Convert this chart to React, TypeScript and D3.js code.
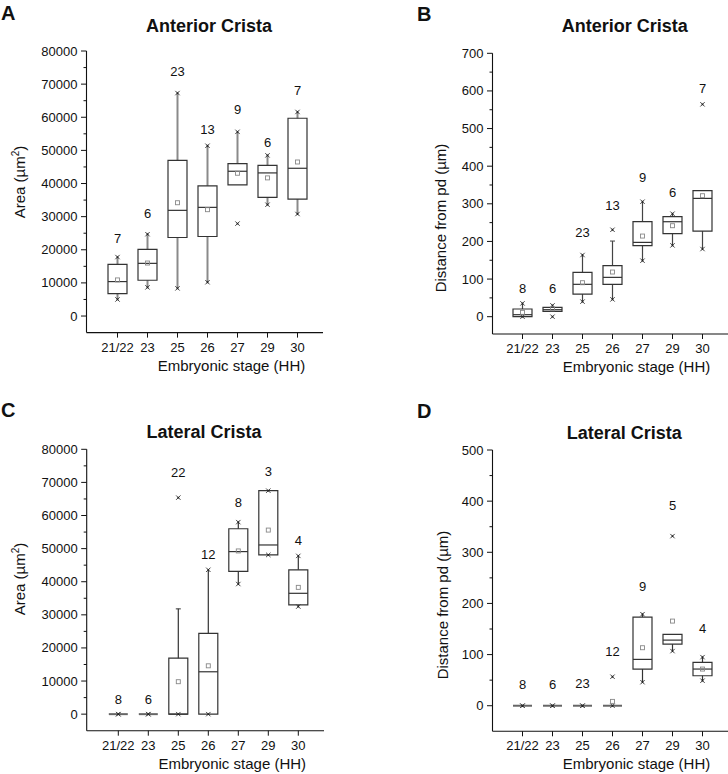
import React from "react";
import * as d3 from "d3";

// ---------- data ----------
const categories = ["21/22", "23", "25", "26", "27", "29", "30"];

// Panel A: Anterior crista area (µm²)
const aQ1 = [6740, 10800, 23700, 24000, 39600, 35800, 35300];
const aMedian = [10400, 15900, 31900, 32800, 43700, 43200, 44600];
const aQ3 = [15600, 20100, 47000, 39300, 46000, 45500, 59700];
const aMean = [10900, 16000, 34200, 32100, 43100, 41700, 46500];
const aWhiskerLo = [5000, 8650, 8350, 10200, 39600, 33600, 30800];
const aWhiskerHi = [17800, 24700, 67300, 51400, 55600, 48500, 61600];
const aMin = [5000, 8650, 8350, 10200, 27900, 33600, 30800];
const aMax = [17800, 24700, 67300, 51400, 55600, 48500, 61600];
const aN = [7, 6, 23, 13, 9, 6, 7];
const aNLabelY = [23500, 31000, 74000, 56400, 62300, 52400, 68000];

// Panel B: Anterior crista distance from pd (µm)
const bQ1 = [0, 14.2, 60.2, 86, 188.7, 220.5, 227.6];
const bMedian = [5.3, 18.6, 86, 104.5, 197.5, 252.4, 314.4];
const bQ3 = [20.4, 24.8, 117.8, 135.5, 252.4, 265.7, 334.8];
const bMean = [11.5, 21, 90.3, 118.7, 214.3, 241.8, 321.5];
const bWhiskerLo = [0, 14.2, 40, 46, 148.8, 189.5, 179.8];
const bWhiskerHi = [35.4, 30, 163.9, 201, 305.6, 273.7, 334.8];
const bMin = [0, 0, 40, 46, 148.8, 189.5, 179.8];
const bMax = [35.4, 30, 163.9, 231, 305.6, 273.7, 564.4];
const bN = [8, 6, 23, 13, 9, 6, 7];
const bNLabelY = [74.4, 74.4, 223, 296, 369.5, 329.6, 606];

// Panel C: Lateral crista area (µm²)
const cQ1 = [0, 0, 0, 0, 43100, 48100, 33000];
const cMedian = [0, 0, 0, 12800, 49100, 51100, 36500];
const cQ3 = [0, 0, 16900, 24400, 56000, 67500, 43600];
const cMean = [0, 0, 9800, 14600, 49300, 55600, 38300];
const cWhiskerLo = [0, 0, 0, 0, 39300, 48100, 32500];
const cWhiskerHi = [0, 0, 31800, 43600, 58000, 67500, 47800];
const cMin = [0, 0, 0, 0, 39300, 48100, 32500];
const cMax = [0, 0, 65400, 43600, 58000, 67500, 47800];
const cN = [8, 6, 22, 12, 8, 3, 4];
const cNLabelY = [4400, 4400, 73200, 48400, 64000, 73500, 52500];

// Panel D: Lateral crista distance from pd (µm)
const dQ1 = [0, 0, 0, 0, 71.7, 120.5, 58.6];
const dMedian = [0, 0, 0, 0, 90.6, 128.3, 71.7];
const dQ3 = [0, 0, 0, 0, 173.3, 139.4, 84.7];
const dMean = [0, 0, 0, 8.5, 113.4, 165.5, 71.7];
const dWhiskerLo = [0, 0, 0, 0, 46, 106.8, 48.9];
const dWhiskerHi = [0, 0, 0, 0, 179, 139.4, 95];
const dMin = [0, 0, 0, 0, 46, 106.8, 48.9];
const dMax = [0, 0, 0, 56.7, 179, 331.6, 95];
const dN = [8, 6, 23, 12, 9, 5, 4];
const dNLabelY = [41.7, 41.7, 44.6, 105.5, 232.6, 392, 151];

const yTicksArea = [0, 10000, 20000, 30000, 40000, 50000, 60000, 70000, 80000];
const yTicksDistB = [0, 100, 200, 300, 400, 500, 600, 700];
const yTicksDistD = [0, 100, 200, 300, 400, 500];

const FONT = "'Liberation Sans', Arial, Helvetica, sans-serif";

type Series = {
  q1: number[]; median: number[]; q3: number[]; mean: number[];
  wLo: number[]; wHi: number[]; min: number[]; max: number[];
  n: number[]; nY: number[];
};

type Cfg = {
  letter: string; letterX: number; letterY: number;
  title: string; titleX: number; titleY: number;
  axisX: number; axisRight: number;
  firstCat: number;
  yDomain: [number, number]; yRange: [number, number];
  yTicks: number[]; minorStep: number;
  yLabel: "area" | "dist"; yLabelX: number; yLabelY: number;
  whiskerColor: string; whiskerWidth: number;
};

function Panel({ cfg, s }: { cfg: Cfg; s: Series }) {
  const x = d3.scalePoint<string>().domain(categories).range([cfg.firstCat, cfg.firstCat + 180]);
  const y = d3.scaleLinear().domain(cfg.yDomain).range(cfg.yRange);
  const axisBottom = cfg.yRange[0];
  const axisTop = cfg.yRange[1];
  const minor: number[] = d3.range(cfg.yDomain[0] < 0 ? 0 : 0, cfg.yDomain[1] + 1e-9, cfg.minorStep)
    .filter((v) => !cfg.yTicks.includes(v));
  const half = 9.5;
  const fmt = (v: number) => String(v);

  return (
    <g fontFamily={FONT}>
      <text x={cfg.letterX} y={cfg.letterY} fontSize={20} fontWeight="bold" fill="#111">{cfg.letter}</text>
      <text x={cfg.titleX} y={cfg.titleY} fontSize={18} fontWeight="bold" textAnchor="middle" fill="#111">{cfg.title}</text>

      {/* y axis */}
      <line x1={cfg.axisX} x2={cfg.axisX} y1={axisTop} y2={axisBottom} stroke="#111" strokeWidth={1.1} />
      {cfg.yTicks.map((t) => (
        <g key={"yt" + t}>
          <line x1={cfg.axisX - 5.5} x2={cfg.axisX} y1={y(t)} y2={y(t)} stroke="#111" strokeWidth={1} />
          <text x={cfg.axisX - 9} y={y(t) + 4.5} fontSize={13} textAnchor="end" fill="#111">{fmt(t)}</text>
        </g>
      ))}
      {minor.map((t) => (
        <line key={"ym" + t} x1={cfg.axisX - 3} x2={cfg.axisX} y1={y(t)} y2={y(t)} stroke="#111" strokeWidth={1} />
      ))}

      {/* x axis */}
      <line x1={cfg.axisX} x2={cfg.axisRight} y1={axisBottom} y2={axisBottom} stroke="#111" strokeWidth={1.1} />
      {categories.map((c) => (
        <g key={"xt" + c}>
          <line x1={x(c)!} x2={x(c)!} y1={axisBottom} y2={axisBottom + 5} stroke="#111" strokeWidth={1} />
          <text x={x(c)!} y={axisBottom + 19} fontSize={13} textAnchor="middle" fill="#111">{c}</text>
        </g>
      ))}
      <text x={cfg.firstCat + 114} y={axisBottom + 38} fontSize={15} textAnchor="middle" fill="#111">
        Embryonic stage (HH)
      </text>

      {/* y label */}
      <text transform={`translate(${cfg.yLabelX},${cfg.yLabelY}) rotate(-90)`} fontSize={15} textAnchor="middle" fill="#111" dy="0.35em">
        {cfg.yLabel === "area" ? (
          <>
            Area (µm<tspan fontSize={10} dy={-6}>2</tspan><tspan dy={6}>)</tspan>
          </>
        ) : (
          "Distance from pd (µm)"
        )}
      </text>

      {/* boxes */}
      {categories.map((c, i) => {
        const cx = x(c)!;
        const yq1 = y(s.q1[i]);
        const yq3 = y(s.q3[i]);
        const ym = y(s.median[i]);
        const flat = s.q1[i] === s.q3[i];
        const mk = (v: number, k: string) => {
          const yy = y(v);
          return (
            <g key={k}>
              <path d={`M${cx - 2.2},${yy - 2.2}L${cx + 2.2},${yy + 2.2}M${cx - 2.2},${yy + 2.2}L${cx + 2.2},${yy - 2.2}`} stroke="#444" strokeWidth={1} />
              <circle cx={cx} cy={yy} r={0.9} fill="#222" />
            </g>
          );
        };
        return (
          <g key={"box" + c}>
            {s.wHi[i] > s.q3[i] && (
              <line x1={cx} x2={cx} y1={yq3} y2={y(s.wHi[i])} stroke={cfg.whiskerColor} strokeWidth={cfg.whiskerWidth} />
            )}
            {s.wLo[i] < s.q1[i] && (
              <line x1={cx} x2={cx} y1={yq1} y2={y(s.wLo[i])} stroke={cfg.whiskerColor} strokeWidth={cfg.whiskerWidth} />
            )}
            {s.wHi[i] > s.q3[i] && s.wHi[i] !== s.max[i] && (
              <line x1={cx - 2.5} x2={cx + 2.5} y1={y(s.wHi[i])} y2={y(s.wHi[i])} stroke={cfg.whiskerColor} strokeWidth={1} />
            )}
            {flat ? (
              <line x1={cx - half} x2={cx + half} y1={yq1} y2={yq1} stroke="#666" strokeWidth={2} />
            ) : (
              <path
                d={`M${cx - half},${yq1}H${cx + half}V${yq3}H${cx - half}Z`}
                fill="none" stroke="#333" strokeWidth={1.2}
              />
            )}
            {!flat && <line x1={cx - half} x2={cx + half} y1={ym} y2={ym} stroke="#333" strokeWidth={1.2} />}
            {mk(s.min[i], "mn")}
            {mk(s.max[i], "mx")}
            {!(flat && s.mean[i] === s.q1[i]) && (
              <rect x={cx - 2} y={y(s.mean[i]) - 2} width={4} height={4} fill="none" stroke="#888" strokeWidth={0.9} />
            )}
            <text x={cx} y={y(s.nY[i]) + 4.7} fontSize={13} textAnchor="middle" fill="#111">{s.n[i]}</text>
          </g>
        );
      })}
    </g>
  );
}

const panelA: Cfg = {
  letter: "A", letterX: 1, letterY: 20,
  title: "Anterior Crista", titleX: 209, titleY: 31.5,
  axisX: 86.5, axisRight: 323, firstCat: 117.5,
  yDomain: [-5000, 80000], yRange: [332.6, 51],
  yTicks: yTicksArea, minorStep: 5000,
  yLabel: "area", yLabelX: 20, yLabelY: 182,
  whiskerColor: "#8a8a8a", whiskerWidth: 2,
};
const panelB: Cfg = {
  letter: "B", letterX: 417, letterY: 20.5,
  title: "Anterior Crista", titleX: 624.7, titleY: 31.5,
  axisX: 492.5, axisRight: 728, firstCat: 522.5,
  yDomain: [-46, 700], yRange: [334, 53.3],
  yTicks: yTicksDistB, minorStep: 50,
  yLabel: "dist", yLabelX: 441, yLabelY: 218,
  whiskerColor: "#444", whiskerWidth: 1.2,
};
const panelC: Cfg = {
  letter: "C", letterX: 1, letterY: 417,
  title: "Lateral Crista", titleX: 204, titleY: 438.3,
  axisX: 86.7, axisRight: 324, firstCat: 118.3,
  yDomain: [-5000, 80000], yRange: [730.7, 449.3],
  yTicks: yTicksArea, minorStep: 5000,
  yLabel: "area", yLabelX: 20, yLabelY: 579,
  whiskerColor: "#333", whiskerWidth: 1.2,
};
const panelD: Cfg = {
  letter: "D", letterX: 417, letterY: 417.5,
  title: "Lateral Crista", titleX: 624.3, titleY: 439,
  axisX: 492.5, axisRight: 728, firstCat: 522.5,
  yDomain: [-50, 500], yRange: [731.3, 450],
  yTicks: yTicksDistD, minorStep: 50,
  yLabel: "dist", yLabelX: 443, yLabelY: 605,
  whiskerColor: "#333", whiskerWidth: 1.2,
};

const sA: Series = { q1: aQ1, median: aMedian, q3: aQ3, mean: aMean, wLo: aWhiskerLo, wHi: aWhiskerHi, min: aMin, max: aMax, n: aN, nY: aNLabelY };
const sB: Series = { q1: bQ1, median: bMedian, q3: bQ3, mean: bMean, wLo: bWhiskerLo, wHi: bWhiskerHi, min: bMin, max: bMax, n: bN, nY: bNLabelY };
const sC: Series = { q1: cQ1, median: cMedian, q3: cQ3, mean: cMean, wLo: cWhiskerLo, wHi: cWhiskerHi, min: cMin, max: cMax, n: cN, nY: cNLabelY };
const sD: Series = { q1: dQ1, median: dMedian, q3: dQ3, mean: dMean, wLo: dWhiskerLo, wHi: dWhiskerHi, min: dMin, max: dMax, n: dN, nY: dNLabelY };

export default function App() {
  return (
    <svg
      width={728}
      height={774}
      viewBox="0 0 728 774"
      style={{ position: "absolute", left: 0, top: 0, background: "#fff" }}
    >
      <rect x={0} y={0} width={728} height={774} fill="#fff" />
      <Panel cfg={panelA} s={sA} />
      <Panel cfg={panelB} s={sB} />
      <Panel cfg={panelC} s={sC} />
      <Panel cfg={panelD} s={sD} />
    </svg>
  );
}
